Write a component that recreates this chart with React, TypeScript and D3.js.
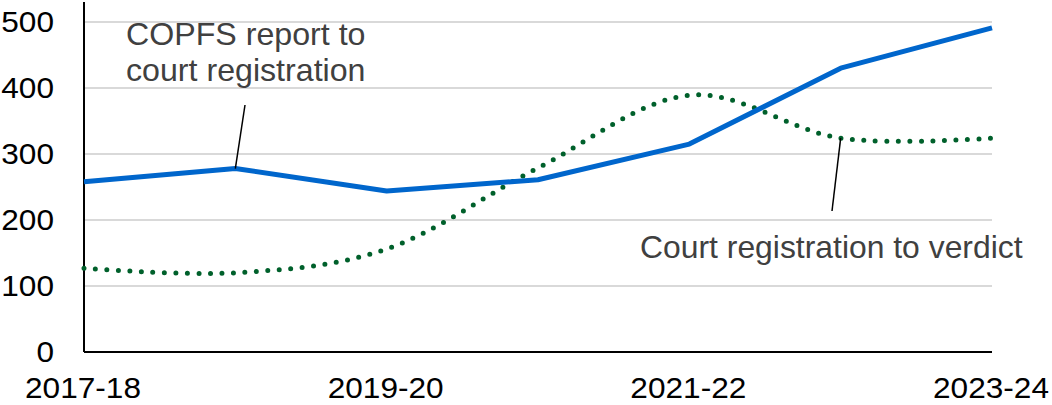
import React, { useEffect, useRef } from "react";
import * as d3 from "d3";

const years = ["2017-18", "2018-19", "2019-20", "2020-21", "2021-22", "2022-23", "2023-24"];
const reportToRegistration = [258, 278, 244, 261, 315, 430, 491];
const registrationToVerdict = [127, 120, 156, 279, 389, 324, 324];
const yTicks = [0, 100, 200, 300, 400, 500];
const xLabels = ["2017-18", "2019-20", "2021-22", "2023-24"];

const W = 1052;
const H = 405;
const margin = { top: 22, right: 60, bottom: 53, left: 84 };

function App() {
  const ref = useRef<SVGSVGElement>(null);

  useEffect(() => {
    const svg = d3.select(ref.current);
    svg.selectAll("*").remove();

    const x = d3.scalePoint<string>().domain(years).range([margin.left, W - margin.right]);
    const y = d3.scaleLinear().domain([0, 500]).range([H - margin.bottom, margin.top]);
    const font = "'Liberation Sans', Arial, sans-serif";

    // gridlines
    svg.append("g")
      .selectAll("line")
      .data(yTicks.filter(d => d > 0))
      .join("line")
      .attr("x1", margin.left)
      .attr("x2", W - margin.right)
      .attr("y1", d => y(d))
      .attr("y2", d => y(d))
      .attr("stroke", "#d9d9d9")
      .attr("stroke-width", 2);

    // y tick labels (text is a bit wider than plain Arial in the original)
    svg.append("g")
      .selectAll("text")
      .data(yTicks)
      .join("text")
      .attr("transform", d => `translate(54,${y(d) + 10}) scale(1.09,1)`)
      .attr("text-anchor", "end")
      .attr("font-family", font)
      .attr("font-size", 29)
      .attr("fill", "#000")
      .text(d => d);

    // x tick labels
    svg.append("g")
      .selectAll("text")
      .data(xLabels)
      .join("text")
      .attr("transform", d => `translate(${x(d)! - 1},398) scale(1.09,1)`)
      .attr("text-anchor", "middle")
      .attr("font-family", font)
      .attr("font-size", 29)
      .attr("fill", "#000")
      .text(d => d);

    // axes lines
    svg.append("line")
      .attr("x1", margin.left).attr("x2", margin.left)
      .attr("y1", 2).attr("y2", y(0))
      .attr("stroke", "#000").attr("stroke-width", 2);
    svg.append("line")
      .attr("x1", margin.left).attr("x2", W - margin.right)
      .attr("y1", y(0)).attr("y2", y(0))
      .attr("stroke", "#000").attr("stroke-width", 2);

    // green dotted smoothed line
    const smooth = d3.line<number>()
      .x((_, i) => x(years[i])!)
      .y(d => y(d))
      .curve(d3.curveCardinal.tension(0));
    svg.append("path")
      .datum(registrationToVerdict)
      .attr("fill", "none")
      .attr("stroke", "#00602b")
      .attr("stroke-width", 5)
      .attr("stroke-linecap", "round")
      .attr("stroke-dasharray", "0 11.5")
      .attr("d", smooth);

    // blue line
    const straight = d3.line<number>()
      .x((_, i) => x(years[i])!)
      .y(d => y(d));
    svg.append("path")
      .datum(reportToRegistration)
      .attr("fill", "none")
      .attr("stroke", "#0066cc")
      .attr("stroke-width", 5)
      .attr("stroke-linejoin", "round")
      .attr("d", straight);

    // annotations
    svg.append("line")
      .attr("x1", 245).attr("y1", 105)
      .attr("x2", x(years[1])!).attr("y2", y(reportToRegistration[1]))
      .attr("stroke", "#000").attr("stroke-width", 1.5);
    svg.append("line")
      .attr("x1", x(years[5])!).attr("y1", y(registrationToVerdict[5]))
      .attr("x2", 832).attr("y2", 211)
      .attr("stroke", "#000").attr("stroke-width", 1.5);

    const note = svg.append("g")
      .attr("font-family", font)
      .attr("font-size", 30.5)
      .attr("fill", "#404040");
    note.append("text").attr("transform", "translate(126,45) scale(1.055,1)").text("COPFS report to");
    note.append("text").attr("transform", "translate(126,81) scale(1.055,1)").text("court registration");
    note.append("text").attr("transform", "translate(640,258) scale(1.045,1)").text("Court registration to verdict");
  }, []);

  return (
    <svg
      ref={ref}
      width={W}
      height={H}
      style={{ position: "absolute", left: 0, top: 0, background: "#fff" }}
    />
  );
}

export default App;
